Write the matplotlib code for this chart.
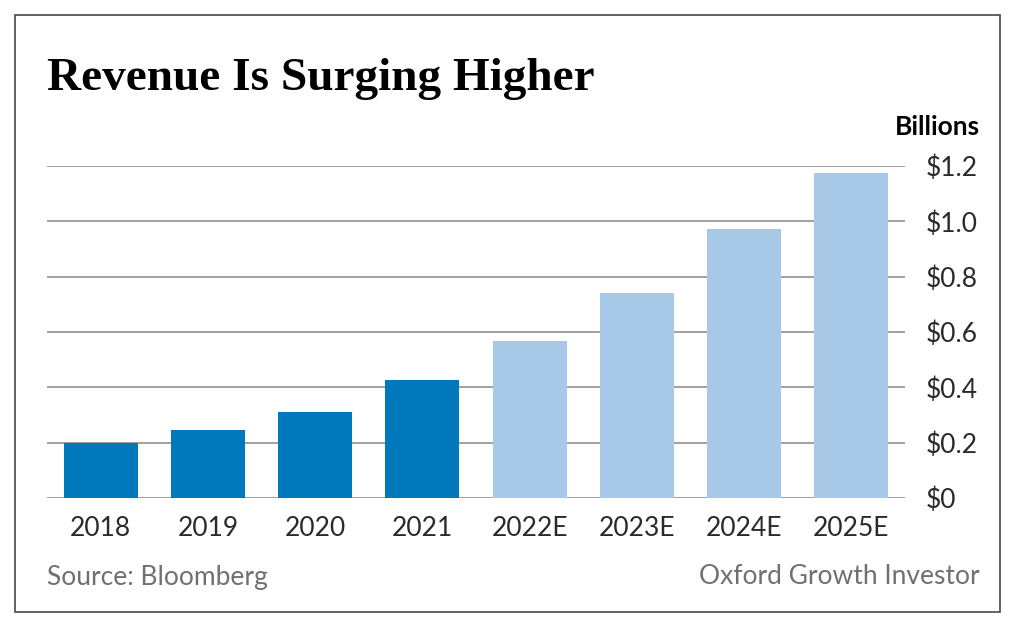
import matplotlib.pyplot as plt
from matplotlib.patches import Rectangle

years = ["2018", "2019", "2020", "2021", "2022E", "2023E", "2024E", "2025E"]
revenue = [0.20, 0.246, 0.311, 0.427, 0.567, 0.741, 0.972, 1.175]
is_estimate = [False, False, False, False, True, True, True, True]
y_ticks = [0, 0.2, 0.4, 0.6, 0.8, 1.0, 1.2]
y_labels = ["$0", "$0.2", "$0.4", "$0.6", "$0.8", "$1.0", "$1.2"]

ACTUAL = "#0079BC"
ESTIMATE = "#A7C9E7"
SANS = ["Lato", "DejaVu Sans"]
FS = 19

fig = plt.figure(figsize=(10.24, 6.25), dpi=100)
fig.patches.append(Rectangle((15 / 1024, 13 / 625), 985 / 1024, 597 / 625,
                             transform=fig.transFigure, fill=False,
                             edgecolor="#555555", linewidth=1.3))

ax = fig.add_axes([47 / 1024, 127 / 625, 858 / 1024, 332 / 625])
colors = [ESTIMATE if e else ACTUAL for e in is_estimate]
ax.bar(range(len(years)), revenue, width=0.69, color=colors, zorder=3)

ax.set_xlim(-0.5, len(years) - 0.5)
ax.set_ylim(0, 1.2)
ax.yaxis.tick_right()
ax.set_yticks(y_ticks)
ax.set_yticklabels(y_labels, family=SANS, fontsize=FS, color="#2a2a2a", ha="left")
ax.set_xticks(range(len(years)))
ax.set_xticklabels(years, family=SANS, fontsize=FS, color="#2a2a2a")
ax.tick_params(axis="y", length=0, pad=15)
ax.tick_params(axis="x", length=0, pad=13)
ax.grid(True, axis="y", color="#A0A0A0", linewidth=1.4, zorder=0)
for s in ax.spines.values():
    s.set_visible(False)

fig.text(47 / 1024, 1 - 79 / 625, "Revenue Is Surging Higher", family="Liberation Serif",
         fontweight="bold", fontsize=34, va="center", ha="left")
fig.text(980 / 1024, 1 - 127 / 625, "Billions", family=SANS, fontweight="bold",
         fontsize=FS, va="center", ha="right")
fig.text(47 / 1024, 1 - 577 / 625, "Source: Bloomberg", family=SANS,
         fontsize=FS, color="#707070", va="center", ha="left")
fig.text(980 / 1024, 1 - 577 / 625, "Oxford Growth Investor", family=SANS,
         fontsize=FS, color="#707070", va="center", ha="right")

fig.savefig("out.png", dpi=100)
